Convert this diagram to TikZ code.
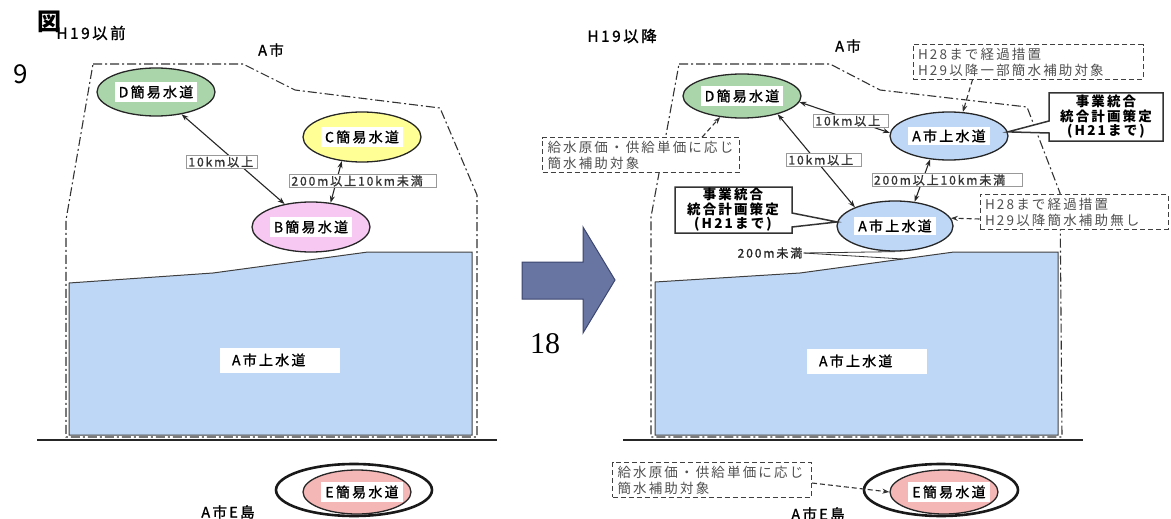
\documentclass[tikz,border=0pt]{standalone}
\usepackage{fontspec}
\usetikzlibrary{arrows.meta,shapes.geometric}
\newfontfamily\jp[LetterSpace=16]{Noto Sans CJK JP}
\newfontfamily\jpm[LetterSpace=16,FakeBold=1.2]{Noto Sans CJK JP}
\newfontfamily\jpn{Noto Sans CJK JP}
\newfontfamily\serifnum{Liberation Serif}
\definecolor{bluefill}{RGB}{190,215,247}
\definecolor{greenfill}{RGB}{170,213,170}
\definecolor{yellowfill}{RGB}{255,255,150}
\definecolor{pinkfill}{RGB}{246,200,242}
\definecolor{efill}{RGB}{245,182,182}
\definecolor{arrowfill}{RGB}{104,117,162}
\definecolor{arrowline}{RGB}{60,70,110}
\definecolor{boxtext}{RGB}{80,80,80}
\begin{document}
\begin{tikzpicture}[x=1pt,y=-1pt,
 ell/.style={ellipse, draw=black!85, line width=1.3pt, inner sep=0pt},
 strip/.style={fill=white, inner xsep=4pt, inner ysep=3pt, font=\jpm\fontsize{14}{15}\selectfont},
 bound/.style={draw=black!80, line width=1.1pt, dash pattern=on 9pt off 3pt on 2pt off 3pt},
 region/.style={fill=bluefill, draw=black!75, line width=1pt},
 ground/.style={line width=2.6pt, draw=black!85},
 dist/.style={draw=black!85, line width=1.1pt, {Stealth[length=7pt,width=5pt]}-{Stealth[length=7pt,width=5pt]}},
 distlbl/.style={draw=black!40, fill=white, inner xsep=2pt, inner ysep=1pt, font=\jpm\fontsize{12}{12}\selectfont, text=black!80, align=left},
 note/.style={draw=black!75, dash pattern=on 5pt off 3pt, line width=1pt, fill=white, inner xsep=5pt, inner ysep=3pt, align=left, text=boxtext, font=\jp\fontsize{13.5}{16}\selectfont},
 notearrow/.style={draw=black!80, dash pattern=on 5pt off 3pt, line width=1.1pt, -{Stealth[length=7pt,width=5pt]}},
 callout/.style={draw=black!80, line width=1.5pt, fill=white},
 callouttxt/.style={align=center, font=\jp\bfseries\fontsize{13.5}{14.5}\selectfont},
 title/.style={font=\jpm\fontsize{15.5}{16}\selectfont},
 place/.style={font=\jpm\fontsize{14.5}{15}\selectfont},
 regionlbl/.style={fill=white, inner ysep=0pt, minimum height=25pt, inner xsep=12pt, align=left, font=\jpm\fontsize{14}{15}\selectfont}
]
\useasboundingbox (0,0) rectangle (1171,519);

% ---------- left panel ----------
\path[region] (69,283) -- (213,273) -- (368,252) -- (472,252) -- (472,435) -- (69,435) -- cycle;
\draw[bound] (93,64) -- (243,64) -- (295,90) -- (440,108) -- (477,195) -- (477,437) -- (66,437) -- (66,220) -- cycle;
\draw[ground] (37,440) -- (497,440);
\node[regionlbl, text width=96pt] (Lreg) at (280,360) {A市上水道};

\node[ell, fill=greenfill, minimum width=118pt, minimum height=48pt] (D) at (156,92) {};
\node[strip] (Dt) at (D) {D簡易水道};
\node[ell, fill=yellowfill, minimum width=118pt, minimum height=50pt] (C) at (362,137) {};
\node[strip] (Ct) at (C) {C簡易水道};
\node[ell, fill=pinkfill, minimum width=118pt, minimum height=50pt] (B) at (311,227) {};
\node[strip] (Bt) at (B) {B簡易水道};

\draw[dist] (D) -- (B);
\draw[dist] (C.230) -- (B.51);
\node[distlbl, text width=67pt] (l1) at (222,162) {10km以上};
\node[distlbl, text width=143pt] (l2) at (363,181) {200m以上10km未満};

\node[ell, draw=none, minimum width=158pt, minimum height=54pt] (Lout) at (354,490) {};
\draw[line width=2.6pt, black!90] (354,490) ellipse [x radius=78pt, y radius=26pt];
\node[ell, fill=efill, minimum width=108pt, minimum height=44pt] (Lin) at (357,492) {};
\node[strip] (Lint) at (362,492) {E簡易水道};

\node[title] (t1) at (91,33) {H19以前};
\node[place] (a1) at (271,50) {A市};
\node[place] (e1) at (228,512) {A市E島};
\node[font=\jpn\bfseries\fontsize{24}{24}\selectfont] (fig) at (49,22) {図};
\node[font=\jpn\fontsize{26}{26}\selectfont] (n9) at (21,74) {9};

% ---------- big arrow ----------
\filldraw[fill=arrowfill, draw=arrowline, line width=1pt] (522,262) -- (583,262) -- (583,227) -- (615,280) -- (583,333) -- (583,299) -- (522,299) -- cycle;
\node[font=\serifnum\fontsize{30}{30}\selectfont] (n18) at (545,344) {18};

% ---------- right panel ----------
\path[region] (655,282) -- (800,273) -- (954,252) -- (1058,252) -- (1058,435) -- (655,435) -- cycle;
\draw[bound] (679,64) -- (830,64) -- (880,90) -- (1027,107) -- (1060,193) -- (1062,437) -- (651,437) -- (651,217) -- cycle;
\draw[ground] (623,440) -- (1083,440);
\node[regionlbl, text width=96pt] (Rreg) at (867,361) {A市上水道};

\node[ell, fill=greenfill, minimum width=118pt, minimum height=44pt] (D2) at (742,96) {};
\node[strip] (D2t) at (D2) {D簡易水道};
\node[ell, fill=bluefill, minimum width=118pt, minimum height=48pt] (Aup) at (949,136) {};
\node[strip] (Aupt) at (Aup) {A市上水道};
\node[ell, fill=bluefill, minimum width=116pt, minimum height=50pt] (Alow) at (895,226) {};
\node[strip] (Alowt) at (Alow) {A市上水道};

\draw[dist] (D2.-27) -- (Alow.155);
\draw[dist] (D2.-6) -- (Aup.177);
\draw[dist] (Aup.231) -- (Alow.51);
\node[distlbl, text width=71pt] (r1) at (851,121) {10km以上};
\node[distlbl, text width=71pt] (r2) at (824,160) {10km以上};
\node[distlbl, text width=146pt] (r3) at (947,180) {200m以上10km未満};

\node[font=\jpm\fontsize{12}{12}\selectfont, text=black!85, inner sep=1pt] (u200) at (770,253) {200m未満};
\coordinate (slope) at (903,259);
\draw[line width=0.8pt, black!80] (u200.east) -- (Alow.south);
\draw[line width=0.8pt, black!80] (u200.east) -- (slope);

\node[note, text width=187pt] (Nleft) at (641,155) {給水原価・供給単価に応じ\\簡水補助対象};
\node[note, text width=220pt] (Ntop) at (1028,62) {H28まで経過措置\\H29以降一部簡水補助対象};
\node[note, text width=178pt] (Nright) at (1074,212) {H28まで経過措置\\H29以降簡水補助無し};
\node[note, text width=189pt] (Nbot) at (712,480) {給水原価・供給単価に応じ\\簡水補助対象};

\draw[notearrow] ([xshift=160pt]Nleft.north west) -- (D2.224);
\draw[notearrow] ([xshift=60pt]Ntop.south west) -- (Aup.60);
\draw[notearrow] ([yshift=-7pt]Nright.west) -- (Alow.8);

\draw[callout] (1049,93) -- (1163,93) -- (1163,141) -- (1049,141) -- (1049,133) -- (Aup.4) -- (1049,121) -- cycle;
\node[callouttxt] (RC) at (1106,117) {事業統合\\統合計画策定\\(H21まで)};
\draw[callout] (675,187) -- (792,187) -- (792,213) -- (Alow.176) -- (792,227) -- (792,233) -- (675,233) -- cycle;
\node[callouttxt] (LC) at (733,210) {事業統合\\統合計画策定\\(H21まで)};

\draw[line width=2.6pt, black!90] (941,490) ellipse [x radius=77pt, y radius=26pt];
\node[ell, draw=none, minimum width=156pt, minimum height=54pt] (Rout) at (941,490) {};
\node[ell, fill=efill, minimum width=108pt, minimum height=44pt] (Rin) at (944,492) {};
\node[strip] (Rint) at (949,492) {E簡易水道};
\draw[notearrow] ([yshift=-3pt]Nbot.east) -- (Rin.west);

\node[title] (t2) at (622,36) {H19以降};
\node[place] (a2) at (848,46) {A市};
\node[place] (e2) at (818,514) {A市E島};
\end{tikzpicture}
\end{document}
